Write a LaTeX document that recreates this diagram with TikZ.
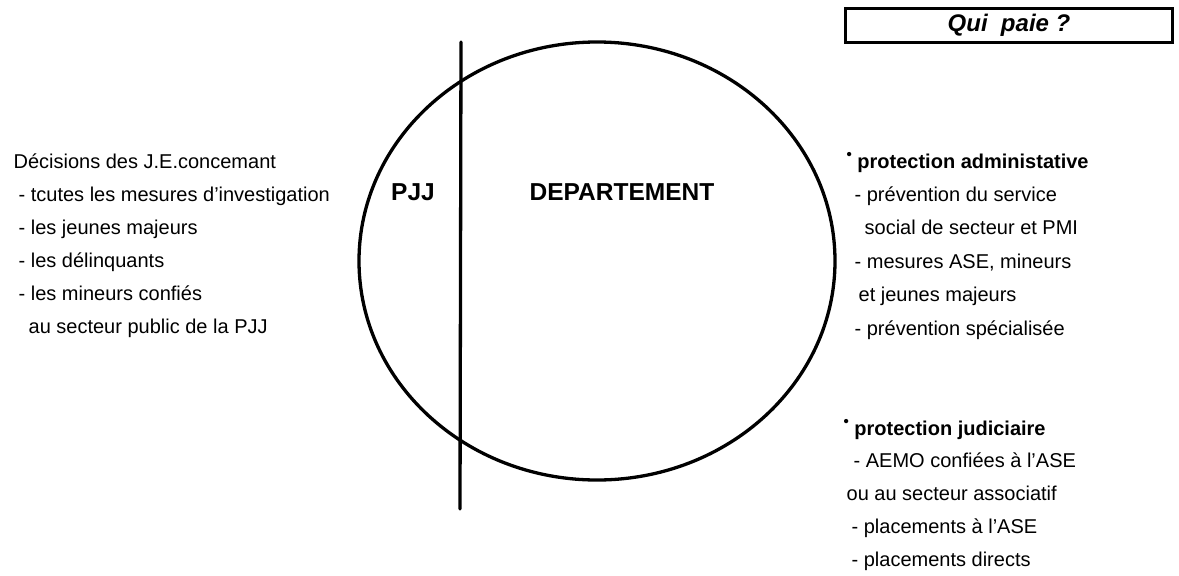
\documentclass[tikz,border=0pt]{standalone}
\usepackage{fontspec}
\setmainfont{Liberation Sans}
\usetikzlibrary{positioning}

\tikzset{
	txt/.style={anchor=base west,inner sep=0pt,font=\fontsize{20}{24}\selectfont},
	headtxt/.style={txt,font=\fontsize{20}{24}\selectfont\bfseries},
	zone/.style={anchor=base,inner sep=0pt,font=\fontsize{24.5}{28}\selectfont\bfseries},
}
\newcommand{\puce}{\raisebox{.42em}{\fontsize{15}{15}\selectfont\textbullet}}

\begin{document}
\begin{tikzpicture}[x=1pt,y=-1pt,line width=3.3pt]
	\useasboundingbox (0,0) rectangle (1179,576);

	\draw (597,261) ellipse [x radius=238,y radius=219];
	\coordinate (top) at (461,42);
	\coordinate (bot) at (460,509);
	\draw[line cap=round] (top) -- (bot);

	\node[zone] (pjj) at (413,200) {PJJ};
	\node[zone] (dep) at (622,200) {DEPARTEMENT};

	\node[draw,line width=3pt,minimum width=327pt,minimum height=34pt,inner sep=0pt,
		font=\fontsize{24}{28}\selectfont\bfseries\itshape] (qui) at (1009,25.5) {Qui\ \ paie ?};

	\foreach \x/\t [count=\i from 0] in {
			12/{Décisions des J.E.concemant},
			17/{- tcutes les mesures d'investigation},
			17/{- les jeunes majeurs},
			17/{- les délinquants},
			17/{- les mineurs confiés},
			27/{au secteur public de la PJJ}} {
			\node[txt] (l\i) at (\x,{168+33*\i}) {\t};
		}

	\node[headtxt] (adm) at (845,168) {\puce\ protection administative};
	\foreach \x/\t [count=\i from 1] in {
			853/{- prévention du service},
			863/{social de secteur et PMI},
			853/{- mesures ASE, mineurs},
			857/{et jeunes majeurs},
			853/{- prévention spécialisée}} {
			\node[txt] (a\i) at (\x,{168+33.4*\i}) {\t};
		}

	\node[headtxt] (jud) at (842,435) {\puce\ protection judiciaire};
	\foreach \x/\t [count=\i from 1] in {
			852/{- AEMO confiées à l'ASE},
			845/{ou au secteur associatif},
			850/{- placements à l'ASE},
			850/{- placements directs}} {
			\node[txt] (j\i) at (\x,{435+32.75*\i}) {\t};
		}

\end{tikzpicture}
\end{document}
